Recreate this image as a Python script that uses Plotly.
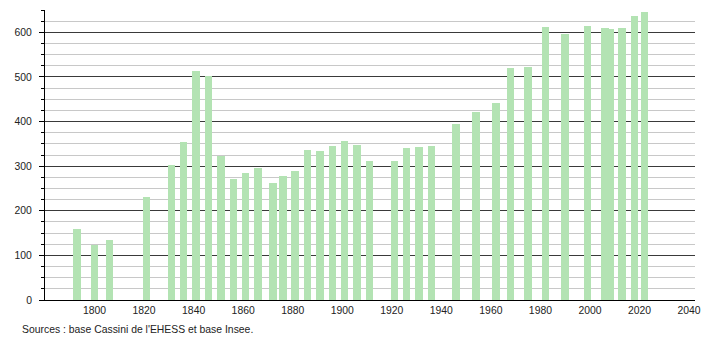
import plotly.graph_objects as go

years = [1793, 1800, 1806, 1821, 1831, 1836, 1841, 1846, 1851, 1856, 1861, 1866,
         1872, 1876, 1881, 1886, 1891, 1896, 1901, 1906, 1911, 1921, 1926, 1931,
         1936, 1946, 1954, 1962, 1968, 1975, 1982, 1990, 1999, 2006, 2008, 2013,
         2018, 2022]
population = [160, 124, 134, 230, 303, 354, 514, 501, 322, 271, 284, 295,
              262, 277, 289, 336, 334, 345, 356, 347, 311, 311, 340, 343,
              345, 394, 421, 442, 520, 523, 613, 597, 615, 610, 608, 610,
              637, 646]
x_ticks = [1800, 1820, 1840, 1860, 1880, 1900, 1920, 1940, 1960, 1980, 2000, 2020, 2040]
y_ticks = [0, 100, 200, 300, 400, 500, 600]
source_text = "Sources : base Cassini de l'EHESS et base Insee."

FONT = "Liberation Sans, Arial, sans-serif"
FS = 10.4

fig = go.Figure()
fig.add_trace(go.Bar(
    x=years, y=population, width=3.0,
    marker=dict(color="#b3e3b3", line=dict(width=0)),
    hoverinfo="x+y",
))

fig.update_layout(
    width=710, height=340,
    margin=dict(l=45, r=9, t=10, b=40),
    paper_bgcolor="white", plot_bgcolor="white",
    showlegend=False,
    font=dict(family=FONT, size=FS, color="#222222"),
    bargap=0,
    xaxis=dict(
        range=[1780, 2042.4],
        tickmode="array", tickvals=x_ticks, ticktext=[str(v) for v in x_ticks],
        showgrid=False, zeroline=False,
        showline=True, linecolor="black", linewidth=1,
        ticks="", ticklabelstandoff=1,
        tickfont=dict(family=FONT, size=FS, color="#222222"),
    ),
    yaxis=dict(
        range=[0, 650],
        tickmode="array", tickvals=y_ticks, ticktext=[str(v) for v in y_ticks],
        showgrid=True, gridcolor="#3a3a3a", gridwidth=1,
        zeroline=False,
        showline=True, linecolor="black", linewidth=1,
        ticks="outside", ticklen=5, tickcolor="black", tickwidth=1,
        ticklabelstandoff=5,
        tickfont=dict(family=FONT, size=FS, color="#222222"),
        minor=dict(dtick=25, tick0=0, showgrid=True, gridcolor="#c8c8c8", gridwidth=1,
                   ticks="outside", ticklen=3, tickcolor="black", tickwidth=1),
    ),
    annotations=[dict(
        text=source_text, xref="paper", yref="paper",
        x=-0.039, y=-0.103, xanchor="left", yanchor="middle", showarrow=False,
        font=dict(family=FONT, size=FS, color="#222222"),
    )],
)

fig.write_html("out.html")
